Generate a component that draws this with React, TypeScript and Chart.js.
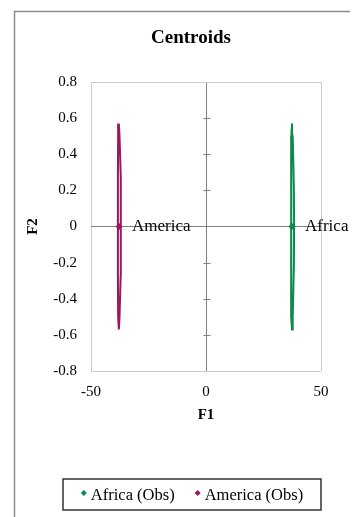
import React, { useEffect, useRef } from "react";
import { Chart, registerables } from "chart.js";

Chart.register(...registerables);

const groups = ["Africa", "America"];
const legendLabels = ["Africa (Obs)", "America (Obs)"];
const centroidF1 = [37.4, -37.8];
const centroidF2 = [0, 0];
const groupColors = ["#0b8a4e", "#a0145e"];

const africaEllipseF1 = [37.4, 37.1, 37.0, 37.0, 37.0, 37.1, 37.4, 37.7, 38.2, 38.3, 38.2, 37.7, 37.4];
const africaEllipseF2 = [0.57, 0.5, 0.22, 0, -0.22, -0.5, -0.57, -0.5, -0.22, 0, 0.22, 0.5, 0.57];
const americaEllipseF1 = [-37.9, -38.2, -38.3, -38.3, -38.3, -38.2, -37.9, -37.6, -37.1, -37.0, -37.1, -37.6, -37.9];
const americaEllipseF2 = [0.57, 0.5, 0.27, 0, -0.27, -0.5, -0.57, -0.5, -0.27, 0, 0.27, 0.5, 0.57];

const xTickValues = [-50, 0, 50];
const yTickValues = [-0.8, -0.6, -0.4, -0.2, 0, 0.2, 0.4, 0.6, 0.8];

const FONT = "'Liberation Serif', 'Times New Roman', serif";

const decorPlugin = {
  id: "decor",
  beforeDraw(chart: any) {
    const ctx = chart.ctx;
    ctx.save();
    ctx.strokeStyle = "#8c8c8c";
    ctx.lineWidth = 1.5;
    ctx.beginPath();
    ctx.moveTo(6.5, chart.height + 5);
    ctx.lineTo(6.5, 3.5);
    ctx.lineTo(chart.width + 5, 3.5);
    ctx.stroke();
    ctx.restore();
  },
  beforeDatasetsDraw(chart: any) {
    const ctx = chart.ctx;
    const xs = chart.scales.x;
    const ys = chart.scales.y;
    const x0 = Math.round(xs.getPixelForValue(0)) + 0.5;
    ctx.save();
    ctx.strokeStyle = "#808080";
    ctx.lineWidth = 1;
    yTickValues.forEach((v) => {
      if (Math.abs(v) < 1e-9 || Math.abs(Math.abs(v) - 0.8) < 1e-9) return;
      const y = Math.round(ys.getPixelForValue(v)) + 0.5;
      ctx.beginPath();
      ctx.moveTo(x0 - 3, y);
      ctx.lineTo(x0 + 4, y);
      ctx.stroke();
    });
    ctx.restore();
  },
  afterDatasetsDraw(chart: any) {
    const ctx = chart.ctx;
    const xs = chart.scales.x;
    const ys = chart.scales.y;
    ctx.save();
    // centroid labels
    ctx.fillStyle = "#000";
    ctx.font = `17px ${FONT}`;
    ctx.textAlign = "left";
    ctx.textBaseline = "middle";
    groups.forEach((g, i) => {
      const px = xs.getPixelForValue(centroidF1[i]);
      const py = ys.getPixelForValue(centroidF2[i]);
      ctx.fillText(g, px + 13, py);
    });
    // title
    ctx.font = `bold 19px ${FONT}`;
    ctx.textAlign = "center";
    ctx.fillText("Centroids", 183, 30);
    // legend
    const boxL = 55, boxR = 313, boxT = 471, boxB = 502;
    ctx.strokeStyle = "#333";
    ctx.lineWidth = 1.5;
    ctx.strokeRect(boxL, boxT, boxR - boxL, boxB - boxT);
    ctx.font = `16.5px ${FONT}`;
    const markerW = 6, gapM = 4, gapItem = 20;
    const widths = legendLabels.map((t) => ctx.measureText(t).width);
    const total = widths.reduce((a, b) => a + b, 0) + legendLabels.length * (markerW + gapM) + gapItem * (legendLabels.length - 1);
    let cx = (boxL + boxR) / 2 - total / 2;
    const cy = (boxT + boxB) / 2;
    ctx.textAlign = "left";
    legendLabels.forEach((t, i) => {
      const mx = cx + markerW / 2;
      const my = cy - 1.5;
      ctx.fillStyle = groupColors[i];
      ctx.beginPath();
      ctx.moveTo(mx, my - 3);
      ctx.lineTo(mx + 3, my);
      ctx.lineTo(mx, my + 3);
      ctx.lineTo(mx - 3, my);
      ctx.closePath();
      ctx.fill();
      ctx.fillStyle = "#000";
      ctx.fillText(t, cx + markerW + gapM, cy + 1);
      cx += markerW + gapM + widths[i] + gapItem;
    });
    ctx.restore();
  },
};

const toPoints = (xs: number[], ys: number[]) => xs.map((x, i) => ({ x, y: ys[i] }));

export default function App() {
  const canvasRef = useRef<HTMLCanvasElement | null>(null);

  useEffect(() => {
    if (!canvasRef.current) return;
    const chart = new Chart(canvasRef.current, {
      type: "scatter",
      data: {
        datasets: [
          {
            label: legendLabels[0],
            data: [{ x: centroidF1[0], y: centroidF2[0] }],
            pointStyle: "rectRot",
            pointRadius: 3.5,
            backgroundColor: groupColors[0],
            borderColor: groupColors[0],
            borderWidth: 0,
          },
          {
            label: legendLabels[1],
            data: [{ x: centroidF1[1], y: centroidF2[1] }],
            pointStyle: "rectRot",
            pointRadius: 3.5,
            backgroundColor: groupColors[1],
            borderColor: groupColors[1],
            borderWidth: 0,
          },
          {
            label: "Africa ellipse",
            data: toPoints(africaEllipseF1, africaEllipseF2),
            showLine: true,
            pointRadius: 0,
            borderColor: groupColors[0],
            borderWidth: 2,
            tension: 0,
          },
          {
            label: "America ellipse",
            data: toPoints(americaEllipseF1, americaEllipseF2),
            showLine: true,
            pointRadius: 0,
            borderColor: groupColors[1],
            borderWidth: 2,
            tension: 0,
          },
        ],
      },
      options: {
        animation: false,
        responsive: true,
        maintainAspectRatio: false,
        layout: { padding: { left: 8, right: 37, top: 74, bottom: 86 } },
        plugins: {
          legend: { display: false },
          title: { display: false },
          tooltip: { enabled: false },
        },
        scales: {
          x: {
            type: "linear",
            min: -50,
            max: 50,
            afterBuildTicks: (s: any) => {
              s.ticks = xTickValues.map((v) => ({ value: v }));
            },
            afterFit: (s: any) => {
              s.height = 60;
            },
            border: { display: false },
            grid: {
              drawTicks: false,
              lineWidth: 1,
              color: (c: any) => (Math.abs(c.tick.value) < 1e-9 ? "#808080" : "#cccccc"),
            },
            ticks: {
              padding: 12,
              color: "#000",
              font: { family: FONT, size: 15 },
              callback: (v: any) => String(v),
            },
            title: {
              display: true,
              text: "F1",
              color: "#000",
              font: { family: FONT, size: 15, weight: "bold" },
              padding: { top: 0, bottom: 7 },
            },
          },
          y: {
            type: "linear",
            min: -0.8,
            max: 0.8,
            afterBuildTicks: (s: any) => {
              s.ticks = yTickValues.map((v) => ({ value: v }));
            },
            afterFit: (s: any) => {
              s.width = 75;
            },
            border: { display: false },
            grid: {
              drawTicks: false,
              lineWidth: 1,
              color: (c: any) => {
                const v = c.tick.value;
                if (Math.abs(v) < 1e-9) return "#808080";
                if (Math.abs(Math.abs(v) - 0.8) < 1e-9) return "#cccccc";
                return "rgba(0,0,0,0)";
              },
            },
            ticks: {
              padding: 14,
              color: "#000",
              font: { family: FONT, size: 15 },
              callback: (v: any) => String(Math.round(v * 10) / 10),
            },
            title: {
              display: true,
              text: "F2",
              color: "#000",
              font: { family: FONT, size: 15, weight: "bold" },
              padding: { top: 8, bottom: 0 },
            },
          },
        },
      },
      plugins: [decorPlugin],
    });
    return () => chart.destroy();
  }, []);

  return (
    <div style={{ position: "relative", width: "350px", height: "509px" }}>
      <canvas ref={canvasRef} />
    </div>
  );
}
